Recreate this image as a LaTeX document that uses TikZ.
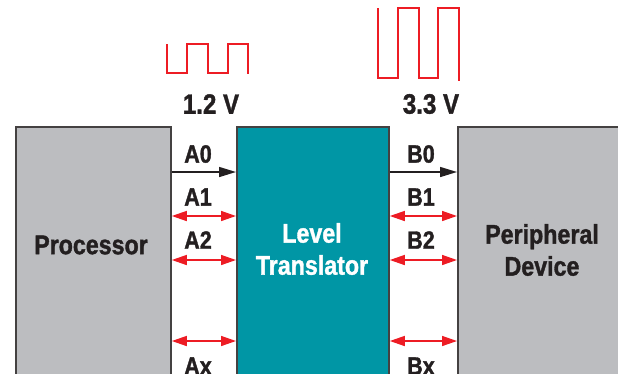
\documentclass[tikz,border=0pt]{standalone}
\usepackage{fontspec}
\setmainfont{Liberation Sans}[FakeStretch=0.86, BoldFeatures={FakeBold=1.3}]
\usetikzlibrary{arrows.meta}
\definecolor{boxgray}{RGB}{188,189,192}
\definecolor{teal1}{RGB}{0,150,165}
\definecolor{sigred}{RGB}{237,28,36}
\definecolor{ink}{RGB}{35,31,32}
\tikzset{
  blockbox/.style={draw=ink!85, line width=1.8pt, anchor=north west, inner sep=0pt},
  lbl/.style={font=\bfseries\fontsize{25}{25}\selectfont, text=ink, inner sep=0pt},
  volt/.style={font=\bfseries\fontsize{28}{28}\selectfont, text=ink, inner sep=0pt},
  bigtxt/.style={font=\bfseries\fontsize{27}{32}\selectfont, align=center, inner sep=0pt},
  bidir/.style={draw=sigred, line width=1.5pt, {Triangle[length=15pt,width=10pt]}-{Triangle[length=15pt,width=10pt]}},
  onedir/.style={draw=ink, line width=1.5pt, -{Triangle[length=17pt,width=10pt]}},
  wave/.style={draw=sigred, line width=1.2pt},
}
\begin{document}
\begin{tikzpicture}[x=1pt,y=-1pt]
\useasboundingbox (0,0) rectangle (618,373);
\clip (0,0) rectangle (618,373);
% blocks
\node[blockbox, fill=boxgray, minimum width=155pt, minimum height=280pt] (proc) at (15,126) {};
\node[blockbox, fill=teal1, minimum width=152pt, minimum height=280pt] (lt) at (236,126) {};
\node[blockbox, fill=boxgray, minimum width=200pt, minimum height=280pt] (per) at (457,126) {};
% block texts
\node[bigtxt, text=ink] (proct) at (91,245) {Processor};
\node[bigtxt, text=white] (ltt) at (312,249) {Level\\Translator};
\node[bigtxt, text=ink] (pert) at (542,250) {Peripheral\\Device};
% row coordinates
\coordinate (r0) at (0,172);
\coordinate (r1) at (0,216);
\coordinate (r2) at (0,260);
\coordinate (rx) at (0,341);
% connectors
\draw[onedir] (r0 -| proc.east) -- (r0 -| lt.west);
\draw[onedir] (r0 -| lt.east) -- (r0 -| per.west);
\draw[bidir] (r1 -| proc.east) -- (r1 -| lt.west);
\draw[bidir] (r2 -| proc.east) -- (r2 -| lt.west);
\draw[bidir] (rx -| proc.east) -- (rx -| lt.west);
\draw[bidir] (r1 -| lt.east) -- (r1 -| per.west);
\draw[bidir] (r2 -| lt.east) -- (r2 -| per.west);
\draw[bidir] (rx -| lt.east) -- (rx -| per.west);
% labels
\node[lbl] (a0) at (198,154) {A0};
\node[lbl] (a1) at (198,197) {A1};
\node[lbl] (a2) at (198,240) {A2};
\node[lbl] (ax) at (198,366) {Ax};
\node[lbl] (b0) at (421,154) {B0};
\node[lbl] (b1) at (421,197) {B1};
\node[lbl] (b2) at (421,240) {B2};
\node[lbl] (bx) at (421,366) {Bx};
\node[volt] (v1) at (211,104) {1.2 V};
\node[volt] (v2) at (431,104) {3.3 V};
% waveforms
\draw[wave] (167,44) -- (167,73) -- (187,73) -- (187,44) -- (208,44) -- (208,73)
  -- (228,73) -- (228,44) -- (248,44) -- (248,74);
\draw[wave] (378,8) -- (378,78) -- (398,78) -- (398,8) -- (419,8) -- (419,78)
  -- (438,78) -- (438,8) -- (459,8) -- (459,81);
\end{tikzpicture}
\end{document}
